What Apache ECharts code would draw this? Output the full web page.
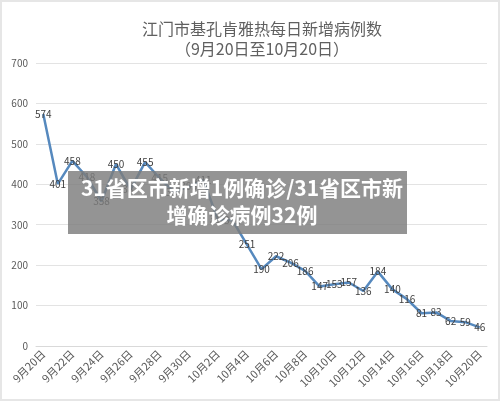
<!DOCTYPE html>
<html>
<head>
<meta charset="utf-8">
<script src="https://cdn.jsdelivr.net/npm/echarts@6/dist/echarts.min.js"></script>
<style>
  html, body { margin: 0; padding: 0; background: #fff; }
  #chart { width: 500px; height: 401px; box-sizing: border-box; border: 2px solid #e6e6e6; }
</style>
</head>
<body>
<div id="chart"></div>
<script>
// 9月20日 ~ 10月20日 每日新增
const days = [
  '9月20日', '9月21日', '9月22日', '9月23日', '9月24日', '9月25日', '9月26日', '9月27日',
  '9月28日', '9月29日', '9月30日', '10月1日', '10月2日', '10月3日', '10月4日', '10月5日',
  '10月6日', '10月7日', '10月8日', '10月9日', '10月10日', '10月11日', '10月12日', '10月13日',
  '10月14日', '10月15日', '10月16日', '10月17日', '10月18日', '10月19日', '10月20日'
]
const cases = [
  574, 401, 458, 418, 358, 450, 387, 455, 415, 380, 395, 411, 313, 311, 251, 190,
  222, 206, 186, 147, 153, 157, 136, 184, 140, 116, 81, 83, 62, 59, 46
]
const yTicks = { min: 0, max: 700, step: 100 }
const titleText = '江门市基孔肯雅热每日新增病例数'
const subText = '（9月20日至10月20日）'
const bannerLines = ['31省区市新增1例确诊/31省区市新', '增确诊病例32例']

const font = '"Noto Sans CJK SC", "Noto Sans", sans-serif'
const chart = echarts.init(document.getElementById('chart'))

chart.setOption({
  animation: false,
  textStyle: { fontFamily: font },
  title: {
    text: titleText,
    subtext: subText,
    left: 255,
    top: 14,
    textAlign: 'center',
    itemGap: 4,
    textStyle: { fontSize: 16, fontWeight: 'normal', color: '#606060', fontFamily: font },
    subtextStyle: { fontSize: 16, color: '#606060', fontFamily: font }
  },
  grid: { left: 34, right: 11, top: 61, bottom: 53 },
  xAxis: {
    type: 'category',
    data: days,
    boundaryGap: true,
    axisLine: { lineStyle: { color: '#d9d9d9' } },
    axisTick: { interval: 1, length: 5, lineStyle: { color: '#d9d9d9' } },
    axisLabel: { interval: 1, rotate: 45, fontSize: 11, color: '#595959', margin: 6 }
  },
  yAxis: {
    type: 'value',
    min: yTicks.min,
    max: yTicks.max,
    interval: yTicks.step,
    axisLine: { show: false },
    axisTick: { show: false },
    axisLabel: { fontSize: 10, color: '#595959', margin: 8 },
    splitLine: { lineStyle: { color: '#e3e3e3' } }
  },
  series: [
    {
      type: 'line',
      data: cases,
      showSymbol: true,
      symbol: 'circle',
      symbolSize: 1,
      itemStyle: { color: 'rgba(0,0,0,0)' },
      lineStyle: { color: '#5689be', width: 2.5 },
      label: {
        show: true,
        position: 'inside',
        fontSize: 10,
        color: '#404040'
      },
      labelLayout: { hideOverlap: false }
    }
  ],
  graphic: [
    {
      type: 'rect',
      z: 100,
      shape: { x: 66, y: 169, width: 339, height: 63 },
      style: { fill: 'rgba(125,125,125,0.82)' }
    },
    {
      type: 'text',
      z: 101,
      x: 240,
      y: 186,
      style: {
        text: bannerLines[0],
        fill: '#fff',
        font: 'bold 21px ' + font,
        textAlign: 'center',
        textVerticalAlign: 'middle',
        shadowColor: 'rgba(0,0,0,0.4)',
        shadowBlur: 2
      }
    },
    {
      type: 'text',
      z: 101,
      x: 240,
      y: 213,
      style: {
        text: bannerLines[1],
        fill: '#fff',
        font: 'bold 21px ' + font,
        textAlign: 'center',
        textVerticalAlign: 'middle',
        shadowColor: 'rgba(0,0,0,0.4)',
        shadowBlur: 2
      }
    }
  ]
})
</script>
</body>
</html>
